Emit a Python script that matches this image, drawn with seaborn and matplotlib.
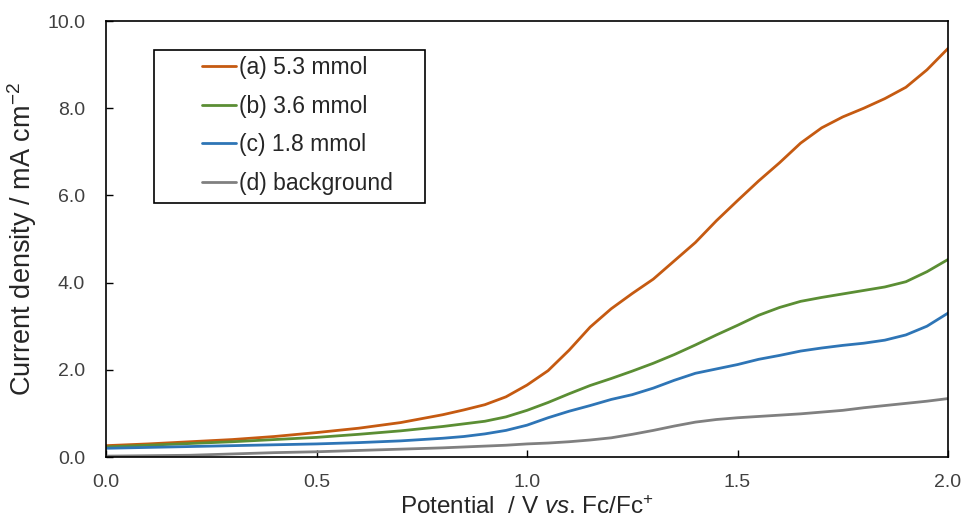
import numpy as np
import pandas as pd
import seaborn as sns
import matplotlib
matplotlib.use("Agg")
import matplotlib.pyplot as plt
from matplotlib.patches import Rectangle

potential = [0.0, 0.1, 0.2, 0.3, 0.4, 0.5, 0.6, 0.7, 0.8, 0.85, 0.9, 0.95, 1.0, 1.05, 1.1,
             1.15, 1.2, 1.25, 1.3, 1.35, 1.4, 1.45, 1.5, 1.55, 1.6, 1.65, 1.7, 1.75, 1.8,
             1.85, 1.9, 1.95, 2.0]
cur_a = [0.26, 0.30, 0.35, 0.40, 0.47, 0.56, 0.66, 0.79, 0.97, 1.08, 1.20, 1.38, 1.65, 1.98, 2.45,
         2.98, 3.40, 3.75, 4.08, 4.50, 4.92, 5.42, 5.88, 6.33, 6.75, 7.20, 7.55, 7.80, 8.00,
         8.22, 8.48, 8.88, 9.37]
cur_b = [0.23, 0.27, 0.31, 0.35, 0.40, 0.45, 0.52, 0.60, 0.70, 0.76, 0.82, 0.92, 1.07, 1.25, 1.45,
         1.64, 1.80, 1.97, 2.15, 2.35, 2.57, 2.80, 3.02, 3.25, 3.43, 3.57, 3.66, 3.74, 3.82,
         3.90, 4.02, 4.25, 4.53]
cur_c = [0.20, 0.22, 0.24, 0.26, 0.28, 0.30, 0.33, 0.37, 0.43, 0.47, 0.53, 0.61, 0.73, 0.90, 1.05,
         1.18, 1.32, 1.43, 1.58, 1.76, 1.92, 2.02, 2.12, 2.24, 2.33, 2.43, 2.50, 2.56, 2.61,
         2.68, 2.80, 3.00, 3.30]
cur_d = [0.02, 0.03, 0.04, 0.07, 0.10, 0.12, 0.15, 0.18, 0.21, 0.23, 0.25, 0.27, 0.30, 0.32, 0.35,
         0.39, 0.44, 0.52, 0.61, 0.71, 0.80, 0.86, 0.90, 0.93, 0.96, 0.99, 1.03, 1.07, 1.13,
         1.18, 1.23, 1.28, 1.34]
labels = ["(a) 5.3 mmol", "(b) 3.6 mmol", "(c) 1.8 mmol", "(d) background"]
colors = ["#C55A11", "#5B8E34", "#2E75B6", "#808080"]
xticks = [0.0, 0.5, 1.0, 1.5, 2.0]
xticklabels = ["0.0", "0.5", "1.0", "1.5", "2.0"]
yticks = [0, 2, 4, 6, 8, 10]
yticklabels = ["0.0", "2.0", "4.0", "6.0", "8.0", "10.0"]

frames = []
for lab, cur in zip(labels, [cur_a, cur_b, cur_c, cur_d]):
    frames.append(pd.DataFrame({"Potential": potential, "Current": cur, "Sample": lab}))
df = pd.concat(frames, ignore_index=True)

sns.set_theme(style="white")
plt.rcParams["font.family"] = ["Liberation Sans", "DejaVu Sans"]
plt.rcParams["mathtext.fontset"] = "custom"
plt.rcParams["mathtext.rm"] = "Liberation Sans"
plt.rcParams["mathtext.it"] = "Liberation Sans:italic"
plt.rcParams["mathtext.default"] = "regular"

W, H = 961, 521
fig = plt.figure(figsize=(W/100, H/100), dpi=100)
L, R, T, B = 106, 948, 21, 457
ax = fig.add_axes([L/W, 1 - B/H, (R-L)/W, (B-T)/H])

sns.lineplot(data=df, x="Potential", y="Current", hue="Sample", palette=colors,
             hue_order=labels, linewidth=2, ax=ax, legend=True, sort=False)

ax.set_xlim(0, 2.0)
ax.set_ylim(0, 10.0)
ax.set_xticks(xticks)
ax.set_yticks(yticks)
ax.set_xticklabels(xticklabels)
ax.set_yticklabels(yticklabels)
ax.tick_params(axis="both", direction="in", length=5, width=1, colors="black",
               labelsize=14, labelcolor="#404040", left=True, bottom=True)
ax.tick_params(axis="x", pad=12)
ax.tick_params(axis="y", pad=15)
for s in ax.spines.values():
    s.set_color("black")
    s.set_linewidth(1.2)
ax.set_xlabel("Potential  / V $\\it{vs}$. Fc/Fc$^{+}$", fontsize=17.5, color="#262626", labelpad=4)
ax.set_ylabel("Current density / mA cm$^{-2}$", fontsize=19.5, color="#262626", labelpad=6)

def ax_x(px):
    return (px - L) / (R - L)

def ax_y(py):
    return (B - py) / (B - T)

# legend frame
ax.add_patch(Rectangle((ax_x(154), ax_y(203)), ax_x(425) - ax_x(154), ax_y(50) - ax_y(203),
                       transform=ax.transAxes, fill=True, facecolor="white",
                       edgecolor="black", linewidth=1.2, zorder=3))

leg = ax.legend(loc="upper left", bbox_to_anchor=(ax_x(202), ax_y(56)), fontsize=16.5,
                frameon=False, handlelength=1.5, handletextpad=0.1,
                labelspacing=0.68, borderpad=0, borderaxespad=0, title=None)
leg.set_zorder(4)
for t in leg.get_texts():
    t.set_color("#262626")

fig.savefig("out.png", dpi=100)
